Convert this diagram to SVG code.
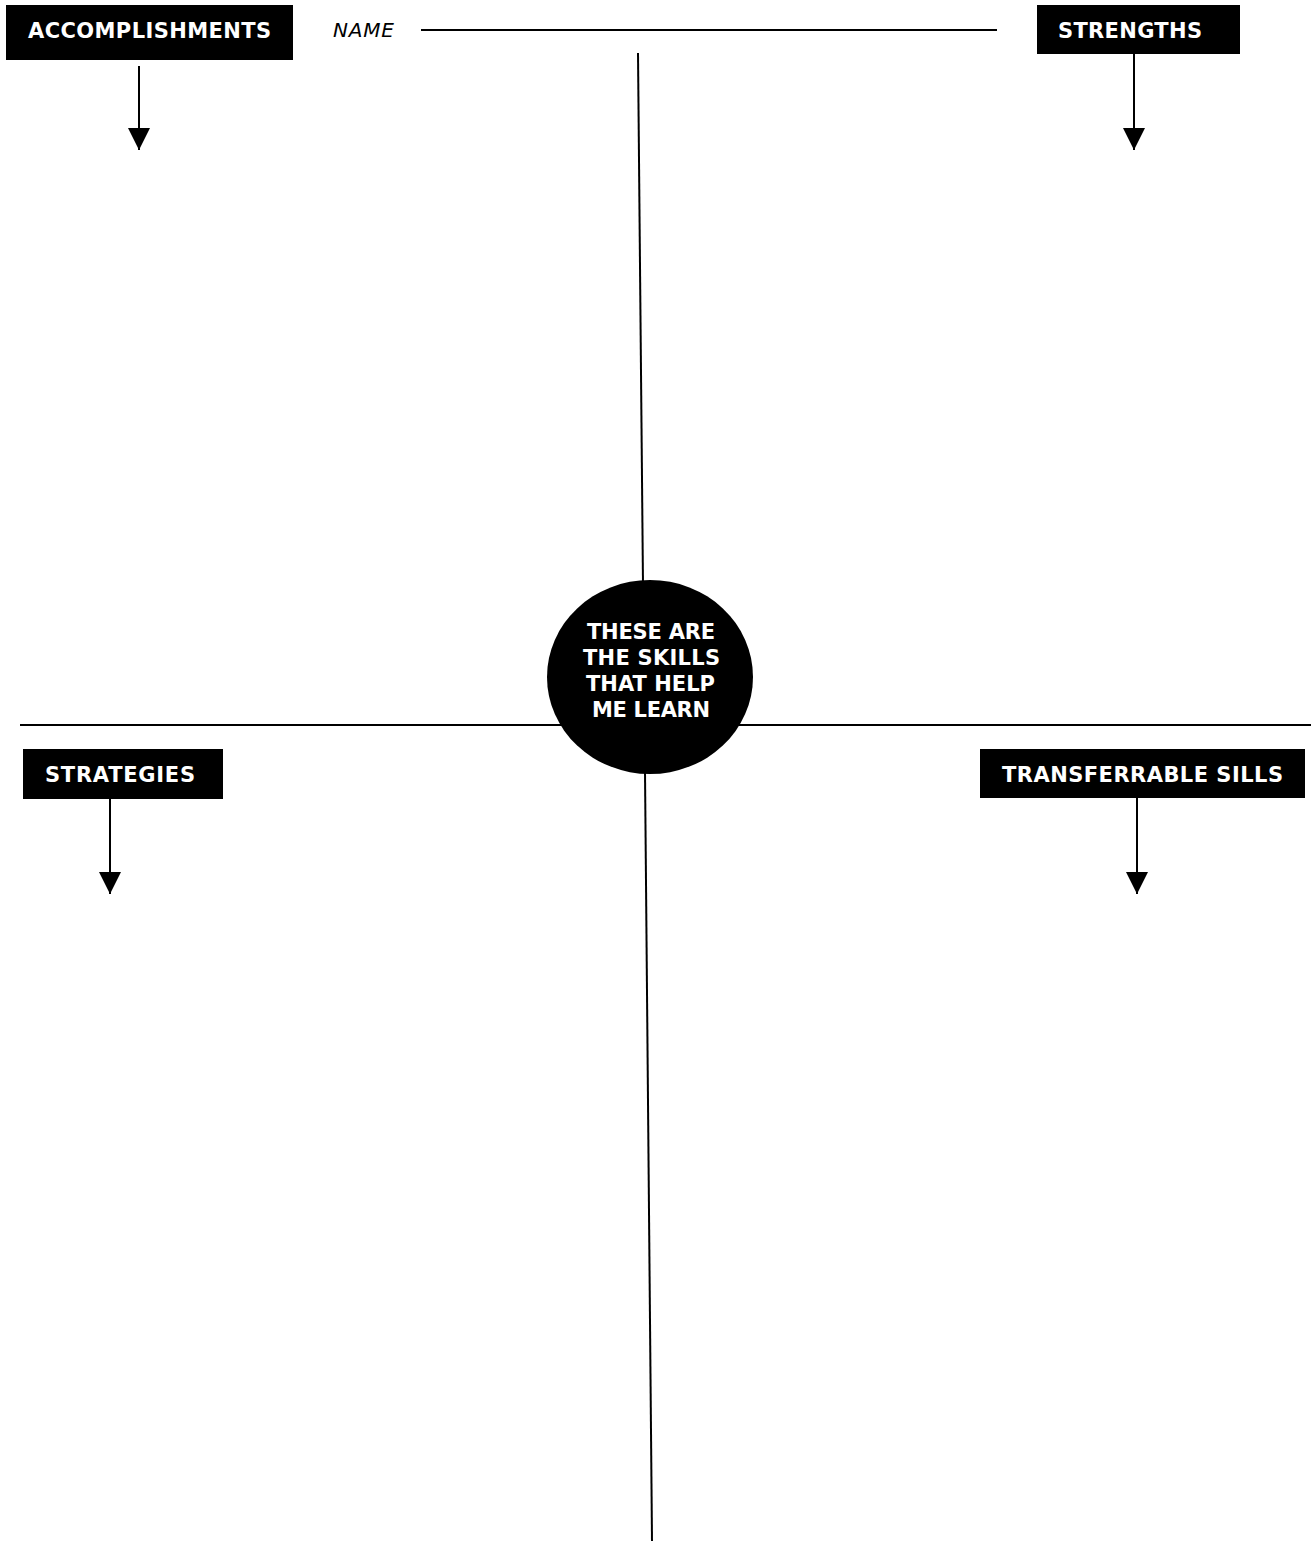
<svg xmlns="http://www.w3.org/2000/svg" width="1311" height="1541" viewBox="0 0 1311 1541">
<style>
.lbl{font-family:"DejaVu Sans","Verdana",sans-serif;font-weight:bold;font-size:21px;fill:#fff;text-anchor:middle}
.ln{stroke:#000;stroke-width:2;fill:none}
.box{fill:#000}
</style>
<defs>
<marker id="ah" markerWidth="22" markerHeight="22" viewBox="0 0 22 22" refX="22" refY="11" orient="auto" markerUnits="userSpaceOnUse">
<path d="M0,0 L22,11 L0,22 Z" fill="#000"/>
</marker>
</defs>
<rect width="1311" height="1541" fill="#fff"/>
<g id="connectors">
<line class="ln" x1="421" y1="30" x2="997" y2="30"/>
<line class="ln" x1="638" y1="53" x2="643" y2="585"/>
<line class="ln" x1="645" y1="772" x2="652" y2="1541"/>
<line class="ln" x1="20" y1="725" x2="1311" y2="725"/>
<line class="ln" x1="139" y1="66" x2="139" y2="150" marker-end="url(#ah)"/>
<line class="ln" x1="1134" y1="54" x2="1134" y2="150" marker-end="url(#ah)"/>
<line class="ln" x1="110" y1="799" x2="110" y2="894" marker-end="url(#ah)"/>
<line class="ln" x1="1137" y1="798" x2="1137" y2="894" marker-end="url(#ah)"/>
</g>
<g id="name">
<text x="333" y="37" font-family="DejaVu Sans, Verdana, sans-serif" font-style="italic" font-size="20" fill="#000" textLength="61" lengthAdjust="spacing">NAME</text>
</g>
<g id="accomplishments">
<rect class="box" x="6" y="5" width="287" height="55"/>
<text class="lbl" x="149.5" y="38" textLength="243" lengthAdjust="spacing">ACCOMPLISHMENTS</text>
</g>
<g id="strengths">
<rect class="box" x="1037" y="5" width="203" height="49"/>
<text class="lbl" x="1130" y="38" textLength="144" lengthAdjust="spacing">STRENGTHS</text>
</g>
<g id="strategies">
<rect class="box" x="23" y="749" width="200" height="50"/>
<text class="lbl" x="120" y="782" textLength="150" lengthAdjust="spacing">STRATEGIES</text>
</g>
<g id="transferrable">
<rect class="box" x="980" y="749" width="325" height="49"/>
<text class="lbl" x="1142.5" y="782" textLength="281" lengthAdjust="spacing">TRANSFERRABLE SILLS</text>
</g>
<g id="center">
<ellipse cx="650" cy="677" rx="103" ry="97" fill="#000"/>
<text class="lbl" x="651" y="639" textLength="128" lengthAdjust="spacing">THESE ARE</text>
<text class="lbl" x="651.5" y="665" textLength="137" lengthAdjust="spacing">THE SKILLS</text>
<text class="lbl" x="650.5" y="691" textLength="129" lengthAdjust="spacing">THAT HELP</text>
<text class="lbl" x="651" y="717" textLength="118" lengthAdjust="spacing">ME LEARN</text>
</g>
</svg>
